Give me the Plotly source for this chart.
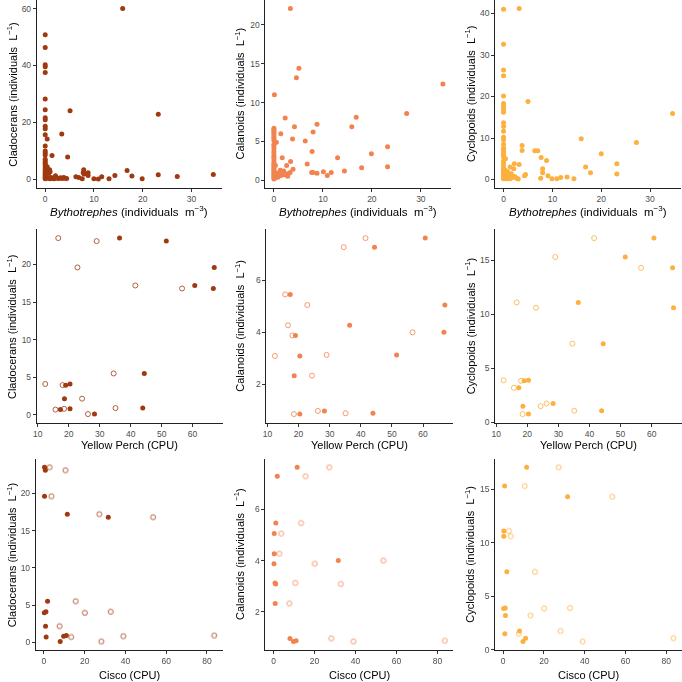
import plotly.graph_objects as go

# ---------------- Row 1: Bythotrephes vs zooplankton ----------------
clad_byth_x = [0, 0, 0, 0, 0, 0, 0, 0, 0, 0, 0, 0, 0, 0, 0, 0, 0, 0, 0, 0, 0, 0, 0, 0, 0, 0, 0, 0, 0,
               0.4, 0.4, 0.5, 0.7, 0.9, 1.0, 1.2, 0.6, 1.0, 1.5, 1.8, 2.1, 2.3, 2.6, 2.9, 3.2, 3.5, 3.8, 4.1, 4.4,
               1.4, 3.4, 4.6, 5.1,
               6.3, 6.9, 7.6, 7.9, 7.8, 8.0, 8.8, 8.8, 10.0, 10.9, 11.6, 13.1, 14.3, 15.9, 16.8, 17.8, 19.9,
               23.2, 23.2, 27.1, 34.5]
clad_byth_y = [50.8, 46.3, 40.2, 39.5, 37.5, 28.2, 24.4, 21.6, 20.9, 18.6, 17.7, 15.6, 11.6, 9.9, 9.2, 8.5,
               7.0, 6.3, 5.6, 5.0, 4.3, 3.6, 3.0, 2.4, 1.8, 1.3, 0.8, 0.4, 0.1,
               14.1, 4.3, 3.0, 2.0, 3.3, 2.6, 0.6, 0.3, 0.1, 0.3, 0.1, 1.2, 0.6, 0.2, 0.3, 0.5, 0.2, 0.6, 0.3, 0.2,
               8.3, 15.9, 7.8, 24.0,
               0.8, 0.6, 0.1, 3.3, 2.2, 1.8, 2.2, 1.3, 0.1, 0.0, 0.8, 0.1, 1.3, 60.0, 3.0, 1.1, 0.1,
               22.8, 1.5, 0.9, 1.6]

cal_byth_x = [0.1, 0, 0, 0, 0, 0, 0, 0, 0, 0, 0, 0, 0, 0, 0, 0, 0, 0, 0, 0, 0, 0, 0, 0, 0, 0, 0, 0, 0,
              0.5, 0.3, 0.4, 0.6, 0.8, 0.9, 1.1, 1.3, 1.4, 1.6, 1.8, 2.0, 2.2, 2.5, 2.8, 3.1, 3.3, 0.2,
              3.36, 5.1, 4.6, 34.5, 2.3, 16.8, 27.1, 4.2, 8.8, 15.9, 8.0, 1.4, 3.8, 6.4, 7.8, 23.2, 19.9,
              6.8, 13.0, 1.7, 3.4, 2.6, 17.9, 23.2, 14.4, 3.9, 7.7, 8.0, 8.8, 10.1, 10.9, 11.7]
cal_byth_y = [11.0, 6.7, 6.5, 6.3, 6.1, 5.9, 5.6, 5.4, 5.1, 4.6, 4.4, 4.1, 3.7, 3.4, 3.1, 2.9, 2.6, 2.3,
              2.1, 1.9, 1.7, 1.5, 1.3, 1.1, 0.9, 0.7, 0.5, 0.3, 0.15,
              4.9, 1.9, 0.6, 0.9, 0.4, 0.8, 0.7, 1.3, 0.6, 0.9, 0.7, 1.2, 0.7, 0.8, 0.5, 0.9, 1.0, 0.3,
              22.1, 14.4, 13.2, 12.4, 8.0, 8.1, 8.6, 6.9, 7.2, 6.9, 6.2, 6.0, 5.3, 5.05, 3.7, 4.3, 3.4,
              2.1, 2.9, 2.9, 2.4, 1.9, 1.6, 1.75, 1.2, 1.4, 1.0, 1.0, 0.9, 1.1, 0.6, 1.0]

cyc_byth_x = [0, 0, 0, 0, 0, 0, 0, 0, 0, 0, 0, 0, 0, 0, 0, 0, 0, 0, 0, 0, 0, 0, 0, 0, 0, 0, 0, 0, 0,
              0.4, 0.5, 0.7, 0.9, 1.1, 1.4, 1.6, 1.9, 2.3, 2.7, 3.0, 0.6, 1.3, 2.2, 1.35, 2.1, 3.2, 4.5,
              4.3, 0.3, 0.8,
              3.2, 5.0, 34.6, 15.9, 27.2, 3.8, 3.8, 6.4, 7.0, 20.0, 7.7, 8.8, 16.8, 23.2, 23.2, 17.8,
              8.0, 8.0, 7.6, 9.1, 9.9, 10.9, 11.7, 13.0, 14.4]
cyc_byth_y = [41.0, 32.6, 26.4, 25.0, 20.1, 18.3, 17.6, 16.9, 16.2, 13.7, 12.8, 11.6, 10.2, 9.6, 8.5, 7.6,
              7.0, 6.5, 6.0, 5.5, 4.5, 4.0, 3.2, 2.5, 2.0, 1.5, 1.0, 0.5, 0.2,
              5.0, 1.0, 1.5, 0.6, 1.3, 0.8, 1.4, 0.5, 0.7, 0.3, 0.1, 0.2, 0.2, 3.8, 3.0, 2.6, 3.6, 1.2,
              0.9, 2.3, 1.9,
              41.2, 18.8, 15.9, 9.8, 8.9, 8.2, 7.0, 6.9, 6.9, 6.2, 5.3, 4.6, 3.0, 3.8, 1.3, 1.6,
              2.6, 1.6, 0.3, 0.9, 0.2, 0.2, 0.5, 0.6, 0.2]

# ---------------- Rows 2-3: fish CPU vs zooplankton (13 samples) ----------------
cladocerans = [4.1, 0.7, 23.5, 3.95, 0.8, 19.6, 2.15, 0.1, 23.1, 5.5, 0.9, 17.2, 16.8]
calanoids = [3.09, 5.46, 4.27, 3.88, 0.85, 5.05, 2.33, 0.97, 3.13, 7.28, 0.88, 7.63, 4.0]
cyclopoids = [3.9, 3.2, 11.1, 3.85, 0.77, 10.6, 1.5, 1.75, 15.3, 7.28, 1.08, 17.05, 14.3]
perch_open = [12.4, 15.7, 16.6, 18.0, 18.5, 22.8, 24.3, 26.2, 29.0, 34.5, 35.1, 41.5, 56.6]
perch_filled = [20.4, 17.3, 36.4, 19.0, 20.4, 67.0, 18.6, 28.3, 51.5, 44.4, 43.9, 60.7, 66.7]
cisco_open = [32.8, 13.4, 2.8, 20.1, 39.0, 3.7, 7.7, 28.2, 10.6, 15.6, 83.6, 27.2, 53.6]
cisco_filled = [1.0, 1.1, 0.3, 0.2, 9.7, 0.3, 0.8, 8.0, 0.7, 1.8, 11.0, 11.5, 31.6]

# tick values
byth_ticks = [0, 10, 20, 30]
clad_ticks_r1 = [0, 20, 40, 60]
cal_ticks_r1 = [0, 5, 10, 15, 20]
cyc_ticks_r1 = [0, 10, 20, 30, 40]
perch_ticks = [10, 20, 30, 40, 50, 60]
cisco_ticks = [0, 20, 40, 60, 80]
clad_ticks = [0, 5, 10, 15, 20]
cal_ticks = [2, 4, 6]
cyc_ticks = [0, 5, 10, 15]

COL_CLAD = "#A0390F"
COL_CAL = "#F2834F"
COL_CYC = "#FDB03E"

W = 682.0
H = 682.0

# pixel boxes (left, right, top, bottom) for each panel
boxes = [
    [(33, 219, 0, 189), (263, 450, 0, 189), (494, 681, 0, 189)],
    [(33, 220, 231, 426), (264, 452, 231, 426), (494, 682, 231, 426)],
    [(32, 220, 462, 655), (263, 452, 462, 655), (494, 682, 462, 655)],
]
ytitle_x = [8, 237, 469]
xtitle_y = [213, 448, 680]


def expand(vals):
    lo, hi = min(vals), max(vals)
    s = hi - lo
    return [lo - 0.05 * s, hi + 0.05 * s]


fig = go.Figure()
layout = dict(width=682, height=682, margin=dict(l=0, r=0, t=0, b=0),
              paper_bgcolor="white", plot_bgcolor="white", showlegend=False,
              font=dict(family="Liberation Sans, Arial, sans-serif"))
annotations = []

ytitles = ["Cladocerans (individuals  L<sup>−1</sup>)",
           "Calanoids (individuals  L<sup>−1</sup>)",
           "Cyclopoids (individuals  L<sup>−1</sup>)"]
xtitles = ["<i>Bythotrephes</i> (individuals  m<sup>−3</sup>)",
           "Yellow Perch (CPU)", "Cisco (CPU)"]
xtitle_size = [11.5, 11, 11]

panels = []
# row 1
panels.append((0, 0, [(clad_byth_x, clad_byth_y, True)], COL_CLAD, byth_ticks, clad_ticks_r1))
panels.append((0, 1, [(cal_byth_x, cal_byth_y, True)], COL_CAL, byth_ticks, cal_ticks_r1))
panels.append((0, 2, [(cyc_byth_x, cyc_byth_y, True)], COL_CYC, byth_ticks, cyc_ticks_r1))
# row 2
for c, (vals, col) in enumerate([(cladocerans, COL_CLAD), (calanoids, COL_CAL), (cyclopoids, COL_CYC)]):
    panels.append((1, c, [(perch_open, vals, False), (perch_filled, vals, True)], col,
                   perch_ticks, [clad_ticks, cal_ticks, cyc_ticks][c]))
# row 3
for c, (vals, col) in enumerate([(cladocerans, COL_CLAD), (calanoids, COL_CAL), (cyclopoids, COL_CYC)]):
    panels.append((2, c, [(cisco_open, vals, False), (cisco_filled, vals, True)], col,
                   cisco_ticks, [clad_ticks, cal_ticks, cyc_ticks][c]))

for (r, c, series, col, xt, yt) in panels:
    k = r * 3 + c + 1
    sx = "" if k == 1 else str(k)
    l, rr, t, b = boxes[r][c]
    allx = [v for s in series for v in s[0]]
    ally = [v for s in series for v in s[1]]
    for (xs, ys, filled) in series:
        if filled:
            marker = dict(symbol="circle", size=5, color=col, line=dict(width=0))
            op = 1.0
        else:
            marker = dict(symbol="circle-open", size=5, color=col, line=dict(width=1, color=col))
            op = 0.8
        fig.add_trace(go.Scatter(x=xs, y=ys, mode="markers", marker=marker, opacity=op,
                                 xaxis="x" + sx, yaxis="y" + sx, hoverinfo="skip"))
    axcommon = dict(showgrid=False, zeroline=False, showline=True, linecolor="#222222", linewidth=1,
                    ticks="outside", ticklen=3, tickwidth=1, tickcolor="#333333",
                    tickfont=dict(size=8.5, color="#4D4D4D"))
    layout["xaxis" + sx] = dict(domain=[l / W, rr / W], anchor="y" + sx, range=expand(allx),
                                tickvals=xt, **axcommon)
    layout["yaxis" + sx] = dict(domain=[1 - b / H, 1 - t / H], anchor="x" + sx, range=expand(ally),
                                tickvals=yt, **axcommon)
    # axis titles
    annotations.append(dict(text=xtitles[r], x=(l + rr) / 2 / W, y=1 - xtitle_y[r] / H,
                            xref="paper", yref="paper", showarrow=False, xanchor="center", yanchor="middle",
                            font=dict(size=xtitle_size[r], color="black")))
    annotations.append(dict(text=ytitles[c], x=ytitle_x[c] / W, y=1 - (t + b) / 2 / H,
                            xref="paper", yref="paper", showarrow=False, textangle=-90,
                            xanchor="center", yanchor="middle", font=dict(size=11, color="black")))

layout["annotations"] = annotations
fig.update_layout(**layout)
fig.write_html("out.html", config={"displayModeBar": False},
               post_script="document.body.style.margin='0';document.body.style.overflow='hidden';")
